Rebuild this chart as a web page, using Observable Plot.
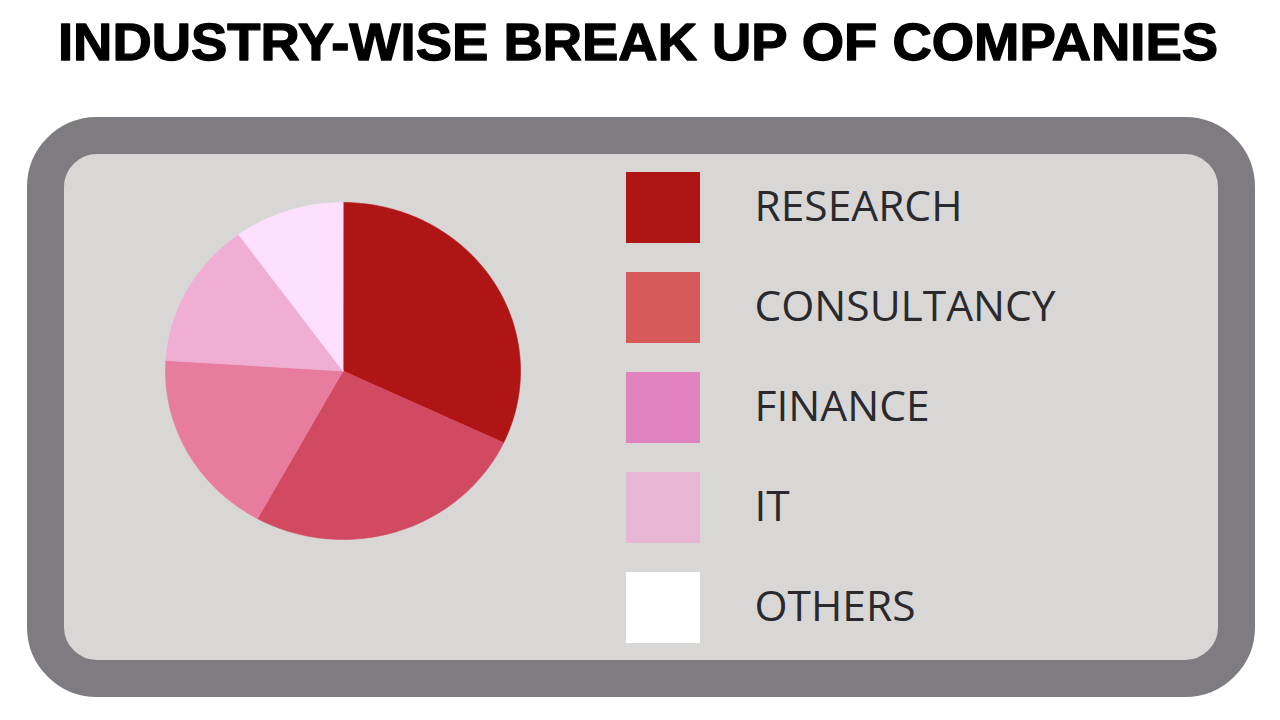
<!DOCTYPE html>
<html>
<head>
<meta charset="utf-8">
<script src="https://cdn.jsdelivr.net/npm/d3@7"></script>
<script src="https://cdn.jsdelivr.net/npm/@observablehq/plot@0.6"></script>
<style>
  html, body { margin: 0; padding: 0; background: #ffffff; }
  #stage { position: relative; width: 1280px; height: 720px; overflow: hidden; background: #fff; }
  #title { position: absolute; left: 0; top: 0; }
  #frame {
    position: absolute; left: 27px; top: 117px; width: 1154px; height: 506px;
    border: 37px solid #7e7c80; border-radius: 70px; background: #d8d7d6;
  }
  #pie { position: absolute; left: 165px; top: 202px; }
  #legend { position: absolute; left: 626px; top: 170px; }
</style>
</head>
<body>
<div id="stage">
  <svg id="title" width="1280" height="100">
    <text x="58" y="60" textLength="1160" lengthAdjust="spacingAndGlyphs"
      font-family="Liberation Sans, Arial, sans-serif" font-weight="bold" font-size="52"
      fill="#000" stroke="#000" stroke-width="1.3" stroke-linejoin="round">INDUSTRY-WISE BREAK UP OF COMPANIES</text>
  </svg>
  <div id="frame"></div>
  <div id="pie"></div>
  <div id="legend"></div>
</div>
<script>
// ---- data ----
const categories = ["RESEARCH", "CONSULTANCY", "FINANCE", "IT", "OTHERS"];
const shares = [32, 26, 18, 14, 10];
const pieColors = ["#b01516", "#d24a62", "#e87c9e", "#f0aed4", "#fee0fe"];
const legendColors = ["#b01516", "#d65a5a", "#df82be", "#e6b6d3", "#ffffff"];

// ---- pie geometry from data ----
const arcs = d3.pie().sort(null).startAngle(0).endAngle(2 * Math.PI)(shares);
const pts = [];
arcs.forEach((a, i) => {
  const cat = categories[i];
  pts.push({cat, x: 0, y: 0});
  const n = Math.max(2, Math.ceil((a.endAngle - a.startAngle) / (Math.PI / 180)));
  for (let k = 0; k <= n; k++) {
    const t = a.startAngle + (a.endAngle - a.startAngle) * k / n;
    pts.push({cat, x: Math.sin(t), y: Math.cos(t)});
  }
});

const pie = Plot.plot({
  width: 355, height: 337, margin: 0,
  x: {domain: [-1, 1], axis: null},
  y: {domain: [-1, 1], axis: null},
  color: {domain: categories, range: pieColors},
  style: {background: "transparent", overflow: "visible"},
  marks: [
    Plot.line(pts, {x: "x", y: "y", z: "cat", fill: "cat", stroke: "cat", strokeWidth: 0.6, curve: "linear-closed"})
  ]
});
document.getElementById("pie").appendChild(pie);

const legend = Plot.plot({
  width: 500, height: 474, margin: 0,
  y: {domain: categories, axis: null, paddingInner: 0.295, paddingOuter: 0},
  color: {domain: categories, range: legendColors},
  style: {background: "transparent", overflow: "visible", fontFamily: "Open Sans, sans-serif"},
  marks: [
    Plot.cell(categories, {y: d => d, fill: d => d, insetRight: 426}),
    Plot.text(categories, {y: d => d, text: d => d, frameAnchor: "left", textAnchor: "start",
      dx: 128, dy: -1, fontSize: 42.5, fill: "#2a2a2e", fontWeight: 400})
  ]
});
document.getElementById("legend").appendChild(legend);
</script>
</body>
</html>
